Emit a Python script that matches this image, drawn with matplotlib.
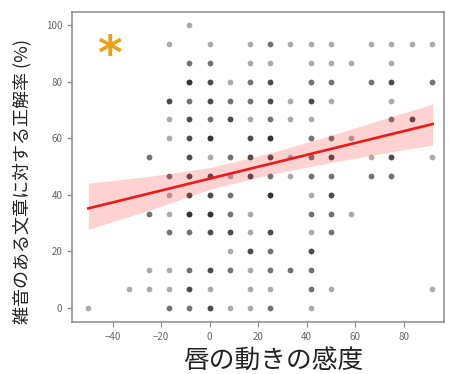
import numpy as np
import matplotlib
matplotlib.use('Agg')
import matplotlib.pyplot as plt

# Grid cells of the scatter: lip-motion sensitivity, accuracy (%), number of overlapping subjects.
pt_x = [-8.3,
        -16.7, 0, 16.7, 25, 33.3, 41.7, 50, 66.7, 75, 83.3, 91.7,
        -8.3, 0, 16.7, 25, 41.7, 50, 58.3, 75,
        -8.3, 0, 8.3, 16.7, 25, 41.7, 50, 66.7, 75, 91.7,
        -16.7, -8.3, 0, 8.3, 16.7, 25, 33.3, 41.7, 50, 75,
        -16.7, -8.3, 0, 8.3, 16.7, 25, 33.3, 41.7, 75, 83.3,
        -16.7, -8.3, 0, 16.7, 25, 41.7, 50, 58.3,
        -25, -8.3, 0, 8.3, 16.7, 25, 33.3, 41.7, 50, 66.7, 75, 91.7,
        -16.7, -8.3, 0, 8.3, 16.7, 25, 33.3, 41.7, 50, 66.7, 75,
        -16.7, -8.3, 0, 8.3, 25, 41.7, 50,
        -25, -16.7, -8.3, 0, 8.3, 16.7, 41.7, 50, 58.3,
        -16.7, -8.3, 0, 8.3, 16.7, 25, 41.7, 50,
        8.3, 16.7, 25, 41.7,
        -25, -16.7, -8.3, 0, 8.3, 16.7, 25, 33.3, 41.7,
        -33.3, -25, -16.7, -8.3, 0, 16.7, 25, 41.7, 50, 91.7,
        -50, -16.7, -8.3, 0, 8.3, 16.7, 25, 41.7]
pt_y = ([100] +
        [93.3] * 11 +
        [86.7] * 8 +
        [80] * 10 +
        [73.3] * 10 +
        [66.7] * 10 +
        [60] * 8 +
        [53.3] * 12 +
        [46.7] * 11 +
        [40] * 7 +
        [33.3] * 9 +
        [26.7] * 8 +
        [20] * 4 +
        [13.3] * 9 +
        [6.7] * 10 +
        [0] * 8)
pt_n = [1,
        1, 1, 1, 2, 1, 1, 1, 1, 1, 1, 1,
        2, 2, 1, 1, 1, 1, 1, 1,
        4, 3, 1, 2, 3, 2, 2, 2, 3, 2,
        3, 2, 3, 2, 2, 3, 1, 3, 1, 1,
        1, 3, 2, 3, 1, 2, 1, 1, 2, 3,
        1, 3, 4, 3, 4, 2, 2, 1,
        2, 3, 1, 2, 3, 3, 1, 2, 3, 1, 3, 1,
        2, 3, 3, 1, 3, 2, 1, 2, 2, 2, 2,
        1, 3, 3, 2, 4, 1, 3,
        2, 1, 4, 4, 2, 1, 2, 2, 1,
        2, 2, 3, 3, 1, 3, 1, 2,
        1, 3, 2, 3,
        1, 1, 2, 3, 2, 1, 2, 2, 2,
        1, 1, 1, 3, 1, 1, 1, 2, 1, 1,
        1, 2, 2, 3, 1, 1, 2, 1]

# Fitted line and its confidence band.
fit_x = [-50, 92]
fit_y = [35.2, 65.0]
band_x = [-50, -25, 0, 25, 50, 75, 92]
band_lo = [27.8, 34.5, 41.9, 47.2, 51.4, 55.2, 57.6]
band_hi = [44.1, 46.5, 49.6, 54.8, 61.0, 67.6, 72.1]

x_ticks = [-40, -20, 0, 20, 40, 60, 80]
y_ticks = [0, 20, 40, 60, 80, 100]

plt.rcParams['font.family'] = ['Noto Sans CJK JP', 'DejaVu Sans']

fig = plt.figure(figsize=(4.49, 3.74), dpi=100)
ax = fig.add_axes([0.1604, 0.139, 0.8285, 0.829])

xs = np.repeat(pt_x, pt_n)
ys = np.repeat(pt_y, pt_n)
ax.scatter(xs, ys, s=17, color='k', alpha=0.33, linewidths=0, zorder=2)

ax.fill_between(band_x, band_lo, band_hi, color='#ff2020', alpha=0.2,
                linewidth=0, zorder=3)
ax.plot(fit_x, fit_y, color='#ee1a1a', linewidth=1.9, zorder=4)

# significance mark
ax.text(0.0995, 0.855, '*', transform=ax.transAxes, fontsize=34,
        fontweight='bold', color='#e6a21a', ha='center', va='center',
        family='DejaVu Sans')

ax.set_xlim(-56.7, 96.7)
ax.set_ylim(-4.95, 104.6)
ax.set_xticks(x_ticks)
ax.set_yticks(y_ticks)
ax.tick_params(colors='#888888', labelcolor='#666666', labelsize=7, length=3.5,
               width=0.9)
for sp in ax.spines.values():
    sp.set_color('#8a8a8a')
    sp.set_linewidth(1.1)

fig.text(0.049, 0.516, '雑音のある文章に対する正解率 (%)', rotation=90,
         ha='center', va='center', fontsize=13, color='#222222')
fig.text(0.608, 0.035, '唇の動きの感度', ha='center', va='center',
         fontsize=18.5, color='#222222')

fig.savefig('out.png', dpi=100)
